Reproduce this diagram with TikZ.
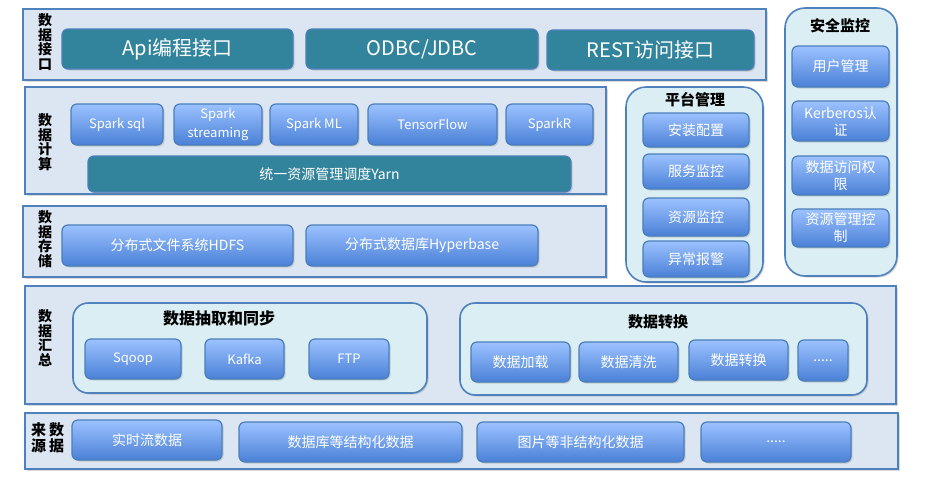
\documentclass[tikz,border=0pt]{standalone}
\usepackage{fontspec}
\setmainfont{Noto Sans CJK SC}
\usetikzlibrary{shadows}
\definecolor{layerfill}{HTML}{DCE6F2}
\definecolor{layerdraw}{HTML}{4F81BD}
\definecolor{panelfill}{HTML}{DAEEF3}
\definecolor{tealfill}{HTML}{31849B}
\definecolor{btntop}{HTML}{9CC2FF}
\definecolor{btnmid}{HTML}{7EABF2}
\definecolor{btnbot}{HTML}{4A80D6}
\definecolor{btndraw}{HTML}{4A7EBB}
\tikzset{
  shad/.style={drop shadow={shadow xshift=1.5pt, shadow yshift=-1.5pt, opacity=0.3}},
  layer/.style={draw=layerdraw, fill=layerfill, line width=1.6pt, inner sep=0, shad},
  panel/.style={draw=layerdraw, fill=panelfill, line width=1.6pt, rounded corners=#1, inner sep=0, shad},
  tealbtn/.style={draw=btndraw, fill=tealfill, line width=1.2pt, rounded corners=6pt, text=white,
    font=\fontsize{20}{24}\selectfont, inner sep=0, shad},
  bluebtn/.style={draw=btndraw, top color=btntop, middle color=btnmid, bottom color=btnbot, line width=1.2pt,
    rounded corners=6pt, text=white, font=\fontsize{14}{17}\selectfont, inner sep=0, align=center, shad},
  sparkbtn/.style={bluebtn, font=\fontsize{13}{19}\selectfont},
  vlabel/.style={font=\bfseries\fontsize{14}{14.5}\selectfont, align=center, inner sep=0},
  grptitle/.style={font=\bfseries\fontsize{15}{18}\selectfont, inner sep=0},
}
\begin{document}
\begin{tikzpicture}[x=1pt,y=-1pt]
\useasboundingbox (0,0) rectangle (925,488);
% layers
\node[layer, minimum width=743, minimum height=71] (L1) at (394.5,44.5) {};
\node[layer, minimum width=581, minimum height=107] (L2) at (315.5,140.5) {};
\node[layer, minimum width=583, minimum height=71] (L3) at (314.5,241.5) {};
\node[layer, minimum width=871, minimum height=118] (L4) at (460.5,345) {};
\node[layer, minimum width=873, minimum height=56] (L5) at (461.5,441) {};
% side panels
\node[panel=20pt, minimum width=137, minimum height=195] (P1) at (694.5,184.5) {};
\node[panel=20pt, minimum width=112, minimum height=268] (P2) at (841,142) {};
% layer labels
\node[vlabel] (t1) at (45,42) {数\\据\\接\\口};
\node[vlabel] (t2) at (45,142) {数\\据\\计\\算};
\node[vlabel] (t3) at (45,239) {数\\据\\存\\储};
\node[vlabel] (t4) at (45,338) {数\\据\\汇\\总};
\node[vlabel, font=\bfseries\fontsize{15}{16}\selectfont] (t5) at (47.5,438) {来\hspace{3pt}数\\源\hspace{3pt}据};
% layer 1
\node[tealbtn, minimum width=231, minimum height=40] (api) at (177.5,49) {Api编程接口};
\node[tealbtn, minimum width=232, minimum height=40] (odbc) at (422,49) {ODBC/JDBC};
\node[tealbtn, minimum width=207, minimum height=40] (rest) at (650.5,50) {REST访问接口};
% layer 2
\node[sparkbtn, minimum width=92, minimum height=41] (ssql) at (117,124.5) {Spark sql};
\node[sparkbtn, minimum width=88, minimum height=41] (sstr) at (218,124.5) {Spark\\streaming};
\node[sparkbtn, minimum width=88, minimum height=41] (sml) at (314,124.5) {Spark ML};
\node[sparkbtn, minimum width=129, minimum height=41] (tf) at (432.5,124.5) {TensorFlow};
\node[sparkbtn, minimum width=87, minimum height=41] (sr) at (549.5,124.5) {SparkR};
\node[tealbtn, font=\fontsize{14}{17}\selectfont, minimum width=483, minimum height=36] (yarn) at (329.5,174) {统一资源管理调度Yarn};
% layer 3
\node[bluebtn, minimum width=231, minimum height=41] (hdfs) at (177.5,245.5) {分布式文件系统HDFS};
\node[bluebtn, minimum width=232, minimum height=41] (hb) at (422,245.5) {分布式数据库Hyperbase};
% layer 4
\node[panel=15pt, minimum width=354, minimum height=90] (G1) at (250,348) {};
\node[panel=15pt, minimum width=407, minimum height=92] (G2) at (663.5,349) {};
\node[grptitle, font=\bfseries\fontsize{16}{18}\selectfont] (g1t) at (219,318) {数据抽取和同步};
\node[grptitle] (g2t) at (658,322) {数据转换};
\node[sparkbtn, minimum width=96, minimum height=40] (sqoop) at (133,359) {Sqoop};
\node[sparkbtn, minimum width=79, minimum height=40] (kafka) at (244.5,359) {Kafka};
\node[sparkbtn, minimum width=80, minimum height=40] (ftp) at (349,359) {FTP};
\node[bluebtn, minimum width=99, minimum height=40] (load) at (520.5,362) {数据加载};
\node[bluebtn, minimum width=99, minimum height=40] (clean) at (628.5,362) {数据清洗};
\node[bluebtn, minimum width=99, minimum height=40] (conv) at (738.5,360) {数据转换};
\node[bluebtn, minimum width=50, minimum height=41] (more1) at (823,360.5) {.....};
% layer 5
\node[bluebtn, minimum width=150, minimum height=40] (rt) at (147,440) {实时流数据};
\node[bluebtn, minimum width=223, minimum height=40] (st) at (350.5,442) {数据库等结构化数据};
\node[bluebtn, minimum width=207, minimum height=40] (ust) at (580.5,442) {图片等非结构化数据};
\node[bluebtn, minimum width=150, minimum height=40] (more2) at (776,442) {.....};
% platform management
\node[grptitle] (p1t) at (695,100) {平台管理};
\node[bluebtn, minimum width=106, minimum height=34] (inst) at (696,130) {安装配置};
\node[bluebtn, minimum width=106, minimum height=35] (svc) at (696,171.5) {服务监控};
\node[bluebtn, minimum width=106, minimum height=38] (res) at (696,217) {资源监控};
\node[bluebtn, minimum width=106, minimum height=36] (alarm) at (696,259) {异常报警};
% security
\node[grptitle] (p2t) at (840,26) {安全监控};
\node[bluebtn, minimum width=97, minimum height=41] (user) at (840.5,66.5) {用户管理};
\node[bluebtn, minimum width=97, minimum height=40] (krb) at (840.5,121) {Kerberos认\\证};
\node[bluebtn, minimum width=97, minimum height=39] (acc) at (840.5,175.5) {数据访问权\\限};
\node[bluebtn, minimum width=97, minimum height=38] (rctl) at (840.5,228) {资源管理控\\制};
\end{tikzpicture}
\end{document}
